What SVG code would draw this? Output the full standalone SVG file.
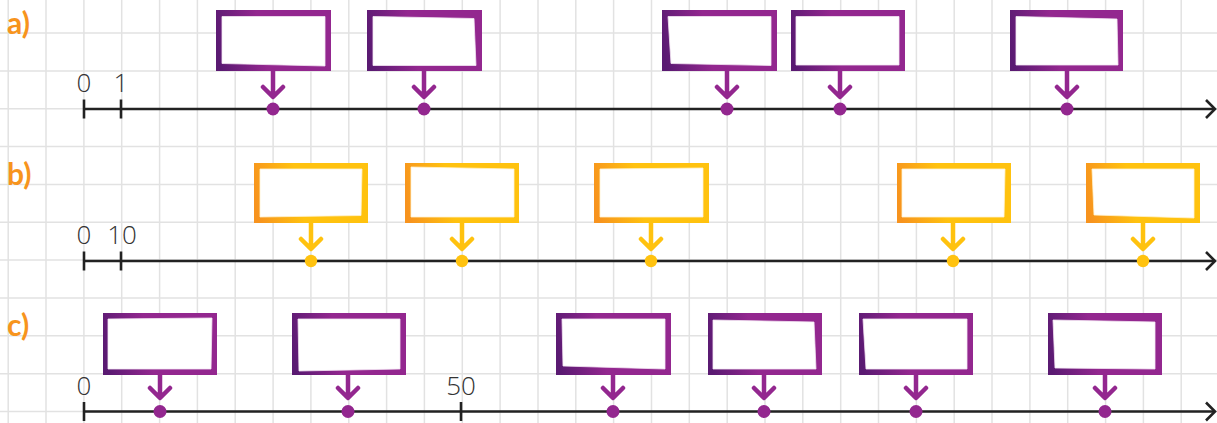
<svg xmlns="http://www.w3.org/2000/svg" width="1217" height="423" viewBox="0 0 1217 423">
<defs>
<linearGradient id="gp" x1="0" y1="0.55" x2="1" y2="0.45">
<stop offset="0" stop-color="#5A1A72"/><stop offset="0.4" stop-color="#93278F"/><stop offset="1" stop-color="#93278F"/>
</linearGradient>
<linearGradient id="go" x1="0" y1="0.55" x2="1" y2="0.45">
<stop offset="0" stop-color="#F7931E"/><stop offset="0.4" stop-color="#FFC20F"/><stop offset="1" stop-color="#FFC20F"/>
</linearGradient>
<style>
.grid line{stroke:#e2e2e2;stroke-width:1.5}
.axis{stroke:#222;stroke-width:2.6;fill:none}
.tick{stroke:#222;stroke-width:2.6}
.num{font-family:"Open Sans","Lato","Liberation Sans",sans-serif;font-weight:300;font-size:26px;fill:#333;text-anchor:middle}
.lbl{font-family:"Lato","Liberation Sans",sans-serif;font-weight:bold;font-size:30px;fill:#F7941D}
.inner{fill:#fff;stroke:#f4e6f4;stroke-width:0.8}
.innero{fill:#fff;stroke:#fff3d0;stroke-width:0.8}
.bp{fill:url(#gp)}
.bo{fill:url(#go)}
.cp{stroke:#93278F;stroke-width:4.5;fill:none;stroke-linecap:round;stroke-linejoin:round}
.co{stroke:#FFC20F;stroke-width:4.5;fill:none;stroke-linecap:round;stroke-linejoin:round}
.dp{fill:#93278F}
.do{fill:#FFC20F}
</style>
</defs>
<rect width="1217" height="423" fill="#fff"/>
<g class="grid">
<line x1="8.2" y1="0" x2="8.2" y2="423"/><line x1="46" y1="0" x2="46" y2="423"/><line x1="83.9" y1="0" x2="83.9" y2="423"/><line x1="121.7" y1="0" x2="121.7" y2="423"/><line x1="159.6" y1="0" x2="159.6" y2="423"/><line x1="197.4" y1="0" x2="197.4" y2="423"/><line x1="235.2" y1="0" x2="235.2" y2="423"/><line x1="273.1" y1="0" x2="273.1" y2="423"/><line x1="310.9" y1="0" x2="310.9" y2="423"/><line x1="348.8" y1="0" x2="348.8" y2="423"/><line x1="386.6" y1="0" x2="386.6" y2="423"/><line x1="424.4" y1="0" x2="424.4" y2="423"/><line x1="462.3" y1="0" x2="462.3" y2="423"/><line x1="500.1" y1="0" x2="500.1" y2="423"/><line x1="538" y1="0" x2="538" y2="423"/><line x1="575.8" y1="0" x2="575.8" y2="423"/><line x1="613.6" y1="0" x2="613.6" y2="423"/><line x1="651.5" y1="0" x2="651.5" y2="423"/><line x1="689.3" y1="0" x2="689.3" y2="423"/><line x1="727.2" y1="0" x2="727.2" y2="423"/><line x1="765" y1="0" x2="765" y2="423"/><line x1="802.8" y1="0" x2="802.8" y2="423"/><line x1="840.7" y1="0" x2="840.7" y2="423"/><line x1="878.5" y1="0" x2="878.5" y2="423"/><line x1="916.4" y1="0" x2="916.4" y2="423"/><line x1="954.2" y1="0" x2="954.2" y2="423"/><line x1="992" y1="0" x2="992" y2="423"/><line x1="1029.9" y1="0" x2="1029.9" y2="423"/><line x1="1067.7" y1="0" x2="1067.7" y2="423"/><line x1="1105.6" y1="0" x2="1105.6" y2="423"/><line x1="1143.4" y1="0" x2="1143.4" y2="423"/><line x1="1181.2" y1="0" x2="1181.2" y2="423"/>
<line x1="0" y1="33" x2="1217" y2="33"/><line x1="0" y1="70.9" x2="1217" y2="70.9"/><line x1="0" y1="108.7" x2="1217" y2="108.7"/><line x1="0" y1="146.6" x2="1217" y2="146.6"/><line x1="0" y1="184.4" x2="1217" y2="184.4"/><line x1="0" y1="222.3" x2="1217" y2="222.3"/><line x1="0" y1="260.1" x2="1217" y2="260.1"/><line x1="0" y1="298" x2="1217" y2="298"/><line x1="0" y1="335.8" x2="1217" y2="335.8"/><line x1="0" y1="373.7" x2="1217" y2="373.7"/><line x1="0" y1="411.5" x2="1217" y2="411.5"/>
</g>
<g id="labels">
<text class="lbl" x="7" y="34">a)</text>
<text class="lbl" x="7" y="185">b)</text>
<text class="lbl" x="7" y="336">c)</text>
</g>
<g id="axis-a">
<line class="axis" x1="84" y1="109" x2="1214" y2="109"/>
<polyline class="axis" points="1206,100 1215,109 1206,118"/>
<line class="tick" x1="84" y1="99.5" x2="84" y2="118.5"/><line class="tick" x1="121" y1="99.5" x2="121" y2="118.5"/>
<text class="num" x="84" y="92">0</text><text class="num" x="121" y="92">1</text>
</g>
<g id="axis-b">
<line class="axis" x1="84" y1="261" x2="1214" y2="261"/>
<polyline class="axis" points="1206,252 1215,261 1206,270"/>
<line class="tick" x1="84" y1="251.5" x2="84" y2="270.5"/><line class="tick" x1="121" y1="251.5" x2="121" y2="270.5"/>
<text class="num" x="84" y="244">0</text><text class="num" x="122" y="244">10</text>
</g>
<g id="axis-c">
<line class="axis" x1="84" y1="411.5" x2="1214" y2="411.5"/>
<polyline class="axis" points="1206,402.5 1215,411.5 1206,420.5"/>
<line class="tick" x1="84" y1="402" x2="84" y2="421"/><line class="tick" x1="461" y1="402" x2="461" y2="421"/>
<text class="num" x="84" y="395">0</text><text class="num" x="461" y="395">50</text>
</g>
<g id="box-a1"><rect class="bp" x="216" y="10" width="115" height="61"/><polygon class="inner" points="222,16.5 325,16.5 325,66 222,63.5"/></g>
<g id="box-a2"><rect class="bp" x="367" y="10" width="115" height="61"/><polygon class="inner" points="373,16.5 474,18.5 476,65.5 373,65.5"/></g>
<g id="box-a3"><rect class="bp" x="662" y="10" width="115" height="61"/><polygon class="inner" points="668,16.5 771,16.5 771,65.5 671,63.5"/></g>
<g id="box-a4"><rect class="bp" x="791" y="10" width="114" height="61"/><polygon class="inner" points="796,16.5 899,16.5 899,65 796,65"/></g>
<g id="box-a5"><rect class="bp" x="1010" y="10" width="113" height="61"/><polygon class="inner" points="1016,16.5 1117,19 1118,65 1016,65"/></g>
<g id="box-b1"><rect class="bo" x="254" y="163" width="114" height="60"/><polygon class="innero" points="260,169 362,169 361,215.5 260,217"/></g>
<g id="box-b2"><rect class="bo" x="405" y="163" width="114" height="60"/><polygon class="innero" points="411,167 514,169 514,217 411,217"/></g>
<g id="box-b3"><rect class="bo" x="594" y="163" width="115" height="60"/><polygon class="innero" points="600,169 703,168 703,217 600,217"/></g>
<g id="box-b4"><rect class="bo" x="897" y="163" width="114" height="60"/><polygon class="innero" points="902,169 1005,169 1004,217 902,217"/></g>
<g id="box-b5"><rect class="bo" x="1086" y="163" width="114" height="60"/><polygon class="innero" points="1092,169 1194,169 1194,218 1094,215"/></g>
<g id="box-c1"><rect class="bp" x="103" y="313" width="114" height="62"/><polygon class="inner" points="108,319 212,318 211,369 108,369"/></g>
<g id="box-c2"><rect class="bp" x="292" y="313" width="114" height="62"/><polygon class="inner" points="298,319 400,319 400,369 299,371"/></g>
<g id="box-c3"><rect class="bp" x="556" y="313" width="115" height="62"/><polygon class="inner" points="562,319 665,319 665,369 563,366"/></g>
<g id="box-c4"><rect class="bp" x="708" y="313" width="114" height="62"/><polygon class="inner" points="713,320 814,322 816,369 713,369"/></g>
<g id="box-c5"><rect class="bp" x="859" y="313" width="114" height="62"/><polygon class="inner" points="863,319 967,319 967,369 866,369"/></g>
<g id="box-c6"><rect class="bp" x="1048" y="313" width="114" height="62"/><polygon class="inner" points="1053,320 1155,322 1155,369 1055,368"/></g>
<g id="connectors">
<path class="cp" d="M273,71V96M263,87L273,97L283,87M424,71V96M414,87L424,97L434,87M727,71V96M717,87L727,97L737,87M840,71V96M830,87L840,97L850,87M1067,71V96M1057,87L1067,97L1077,87"/>
<path class="co" d="M311,223V248M301,239L311,249L321,239M462,223V248M452,239L462,249L472,239M651,223V248M641,239L651,249L661,239M953,223V248M943,239L953,249L963,239M1143,223V248M1133,239L1143,249L1153,239"/>
<path class="cp" d="M160,375V397M150,388L160,398L170,388M348,375V397M338,388L348,398L358,388M613,375V397M603,388L613,398L623,388M764,375V397M754,388L764,398L774,388M916,375V397M906,388L916,398L926,388M1105,375V397M1095,388L1105,398L1115,388"/>
<circle class="dp" cx="273" cy="109" r="6.5"/><circle class="dp" cx="424" cy="109" r="6.5"/><circle class="dp" cx="727" cy="109" r="6.5"/><circle class="dp" cx="840" cy="109" r="6.5"/><circle class="dp" cx="1067" cy="109" r="6.5"/>
<circle class="do" cx="311" cy="261" r="6.2"/><circle class="do" cx="462" cy="261" r="6.2"/><circle class="do" cx="651" cy="261" r="6.2"/><circle class="do" cx="953" cy="261" r="6.2"/><circle class="do" cx="1143" cy="261" r="6.2"/>
<circle class="dp" cx="160" cy="411.5" r="6.5"/><circle class="dp" cx="348" cy="411.5" r="6.5"/><circle class="dp" cx="613" cy="411.5" r="6.5"/><circle class="dp" cx="764" cy="411.5" r="6.5"/><circle class="dp" cx="916" cy="411.5" r="6.5"/><circle class="dp" cx="1105" cy="411.5" r="6.5"/>
</g>
</svg>
